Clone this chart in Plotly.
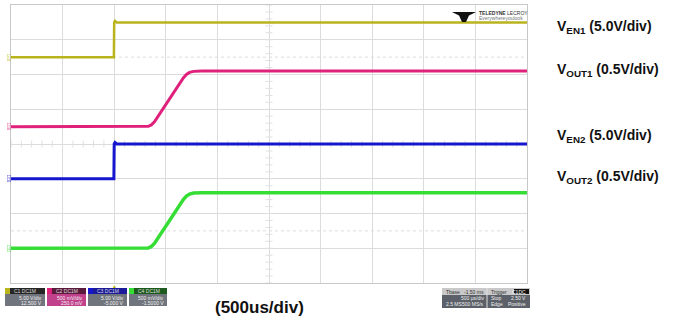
import numpy as np
import plotly.graph_objects as go

# ---------------- data (time in ms, voltage in V) ----------------
en_t = [-1.0, -0.003, 0.0, 0.008, 0.025, 4.0]
en1_v = [0.0, 0.0, 5.0, 5.2, 5.0, 5.0]
en2_v = [0.0, 0.0, 5.0, 5.2, 5.0, 5.0]

out_t = [-1.0, 0.30, 0.33, 0.36, 0.39, 0.67, 0.70, 0.73, 0.77, 0.85, 4.0]
out1_v = [0.0, 0.0, 0.005, 0.025, 0.07, 0.70, 0.75, 0.78, 0.795, 0.80, 0.80]
out2_v = [0.0, 0.0, 0.005, 0.025, 0.07, 0.70, 0.75, 0.78, 0.795, 0.80, 0.80]

# channel settings: V/div and position (div) of 0 V
ch_scale = {"C1": 5.0, "C2": 0.5, "C3": 5.0, "C4": 0.5}
ch_zero = {"C1": 6.5, "C2": 4.5, "C3": 3.0, "C4": 1.0}
ch_color = {"C1": "#b9b31c", "C2": "#e0217c", "C3": "#1616cf", "C4": "#35dd35"}

right_labels = [
    ("V<sub>EN1</sub> (5.0V/div)", 27),
    ("V<sub>OUT1</sub> (0.5V/div)", 70),
    ("V<sub>EN2</sub> (5.0V/div)", 136),
    ("V<sub>OUT2</sub> (0.5V/div)", 177),
]
ch_boxes = [
    ("C1", "C1 DC1M", "5.00 V/div", "12.500 V"),
    ("C2", "C2 DC1M", "500 mV/div", "250.0 mV"),
    ("C3", "C3 DC1M", "5.00 V/div", "-5.000 V"),
    ("C4", "C4 DC1M", "500 mV/div", "-1.5000 V"),
]

W, H = 687, 322
L, R, T, B = 11, 160, 5, 39
PW, PH = W - L - R, H - T - B


def px(x):
    return (x - L) / PW


def py(y):
    return (H - B - y) / PH


def to_div(v, ch):
    return [val / ch_scale[ch] + ch_zero[ch] for val in v]


fig = go.Figure()

# center axis minor ticks (scope graticule)
tick_y = np.arange(0, 8.01, 0.2)
fig.add_trace(go.Scatter(x=[1.5] * len(tick_y), y=tick_y, mode="markers",
                         marker=dict(symbol="line-ew", size=5, line=dict(width=1, color="#e0e0e0")),
                         hoverinfo="skip", showlegend=False))
tick_x = np.arange(-1.0, 4.001, 0.1)
fig.add_trace(go.Scatter(x=tick_x, y=[4.0] * len(tick_x), mode="markers",
                         marker=dict(symbol="line-ns", size=5, line=dict(width=1, color="#e0e0e0")),
                         hoverinfo="skip", showlegend=False))
for yy in [6.5, 1.5]:
    fig.add_trace(go.Scatter(x=[-1.0, 4.0], y=[yy, yy], mode="lines",
                             line=dict(color="#dcdcdc", width=1, dash="dot"),
                             hoverinfo="skip", showlegend=False))

series = [("C1", en_t, en1_v, 2.5), ("C2", out_t, out1_v, 3.0),
          ("C3", en_t, en2_v, 3.0), ("C4", out_t, out2_v, 3.5)]
for ch, t, v, w in series:
    fig.add_trace(go.Scatter(x=t, y=to_div(v, ch), mode="lines",
                             line=dict(color=ch_color[ch], width=w),
                             hoverinfo="skip", showlegend=False))

fig.update_xaxes(range=[-1.0, 4.0], dtick=0.5, tick0=-1.0, showgrid=True, gridcolor="#dcdcdc",
                 gridwidth=1, zeroline=False, showticklabels=False, ticks="",
                 showline=True, linecolor="#c8c8c8", mirror=True)
fig.update_yaxes(range=[0, 8], dtick=1, showgrid=True, gridcolor="#dcdcdc", gridwidth=1,
                 zeroline=False, showticklabels=False, ticks="",
                 showline=True, linecolor="#c8c8c8", mirror=True)

shapes = []
ann = []

# channel markers at the left edge
for i, ch in enumerate(["C1", "C2", "C3", "C4"]):
    ann.append(dict(xref="paper", yref="y", x=px(7), y=ch_zero[ch], text=str(i + 1),
                    showarrow=False, font=dict(size=5, color=ch_color[ch], family="Arial"),
                    bordercolor=ch_color[ch], borderwidth=0.5, borderpad=0, opacity=0.6))

# right labels
for txt, yc in right_labels:
    ann.append(dict(xref="paper", yref="paper", x=px(555), y=py(yc), xanchor="left", yanchor="middle",
                    text="<b>" + txt + "</b>", showarrow=False,
                    font=dict(size=14, color="#111111", family="Arial")))

ann.append(dict(xref="paper", yref="paper", x=px(259), y=py(307), xanchor="center", yanchor="middle",
                text="<b>(500us/div)</b>", showarrow=False,
                font=dict(size=17, color="#111111", family="Arial")))

# channel descriptor boxes
box_x = [(5, 45), (47, 86), (88, 127), (129, 167)]
head_fill = {"C1": "#262626", "C2": "#5a1a3c", "C3": "#1a1a9a", "C4": "#1d5a1d"}
for (ch, head, l1, l2), (x0, x1) in zip(ch_boxes, box_x):
    col = ch_color[ch]
    body = "#c2418c" if ch == "C2" else "#70747c"
    shapes.append(dict(type="rect", xref="paper", yref="paper", x0=px(x0), x1=px(x1), y0=py(294), y1=py(288),
                       fillcolor=head_fill[ch], line=dict(width=0)))
    shapes.append(dict(type="rect", xref="paper", yref="paper", x0=px(x0), x1=px(x0 + 5), y0=py(294), y1=py(288),
                       fillcolor=col, line=dict(width=0)))
    shapes.append(dict(type="rect", xref="paper", yref="paper", x0=px(x0), x1=px(x1), y0=py(306), y1=py(294),
                       fillcolor=body, line=dict(width=0)))
    ann.append(dict(xref="paper", yref="paper", x=px(x0 + 7), y=py(291), xanchor="left", yanchor="middle",
                    text=head, showarrow=False, font=dict(size=5, color="#dddddd", family="Arial")))
    ann.append(dict(xref="paper", yref="paper", x=px(x1 - 1), y=py(297.5), xanchor="right", yanchor="middle",
                    text=l1, showarrow=False, font=dict(size=5, color="#f0f0f0", family="Arial")))
    ann.append(dict(xref="paper", yref="paper", x=px(x1 - 1), y=py(303), xanchor="right", yanchor="middle",
                    text=l2, showarrow=False, font=dict(size=5, color="#f0f0f0", family="Arial")))

# trigger marker on bottom edge
ann.append(dict(xref="x", yref="paper", x=0.0, y=py(286), text="▲", showarrow=False,
                font=dict(size=5, color="#b9b31c"), yanchor="middle"))

# timebase / trigger box
shapes.append(dict(type="rect", xref="paper", yref="paper", x0=px(442), x1=px(530), y0=py(295), y1=py(288),
                   fillcolor="#c9c9c9", line=dict(width=0)))
shapes.append(dict(type="rect", xref="paper", yref="paper", x0=px(442), x1=px(530), y0=py(308), y1=py(295),
                   fillcolor="#5c6068", line=dict(width=0)))
shapes.append(dict(type="line", xref="paper", yref="paper", x0=px(487), x1=px(487), y0=py(308), y1=py(288),
                   line=dict(color="#e0e0e0", width=1)))
shapes.append(dict(type="rect", xref="paper", yref="paper", x0=px(514), x1=px(529), y0=py(294), y1=py(289),
                   fillcolor="#111111", line=dict(width=0)))
tb_txt = [
    (444, 291.5, "left", "Tbase", "#333333"), (486, 291.5, "right", "-1.50 ms", "#333333"),
    (489, 291.5, "left", "Trigger", "#333333"), (528, 291.5, "right", "C1DC", "#ffffff"),
    (486, 298, "right", "500 µs/div", "#f0f0f0"), (489, 298, "left", "Stop", "#f0f0f0"),
    (528, 298, "right", "2.50 V", "#f0f0f0"),
    (444, 304, "left", "2.5 MS", "#f0f0f0"), (486, 304, "right", "500 MS/s", "#f0f0f0"),
    (489, 304, "left", "Edge", "#f0f0f0"), (528, 304, "right", "Positive", "#f0f0f0"),
]
for x, y, anc, t, c in tb_txt:
    ann.append(dict(xref="paper", yref="paper", x=px(x), y=py(y), xanchor=anc, yanchor="middle",
                    text=t, showarrow=False, font=dict(size=5, color=c, family="Arial")))

# logo emblem (fan shape) and text
shapes.append(dict(type="path", xref="paper", yref="paper",
                   path=("M {a} {b} L {c} {b} L {d} {e} L {f} {g} L {h} {g} L {i} {e} Z").format(
                       a=px(452), b=py(12), c=px(476), d=px(469), e=py(15.5), f=px(466), g=py(22),
                       h=px(462), i=px(459)),
                   fillcolor="#111111", line=dict(width=0)))
ann.append(dict(xref="paper", yref="paper", x=px(477), y=py(12.5), xanchor="left", yanchor="middle",
                text="<b>TELEDYNE</b> LECROY", showarrow=False,
                font=dict(size=5, color="#333333", family="Arial")))
ann.append(dict(xref="paper", yref="paper", x=px(477), y=py(18), xanchor="left", yanchor="middle",
                text="Everywhereyoulook", showarrow=False,
                font=dict(size=5, color="#777777", family="Arial")))

fig.update_layout(width=W, height=H, autosize=False,
                  margin=dict(l=L, r=R, t=T, b=B, pad=0),
                  paper_bgcolor="white", plot_bgcolor="white",
                  shapes=shapes, annotations=ann, showlegend=False)

fig.write_html("out.html")
